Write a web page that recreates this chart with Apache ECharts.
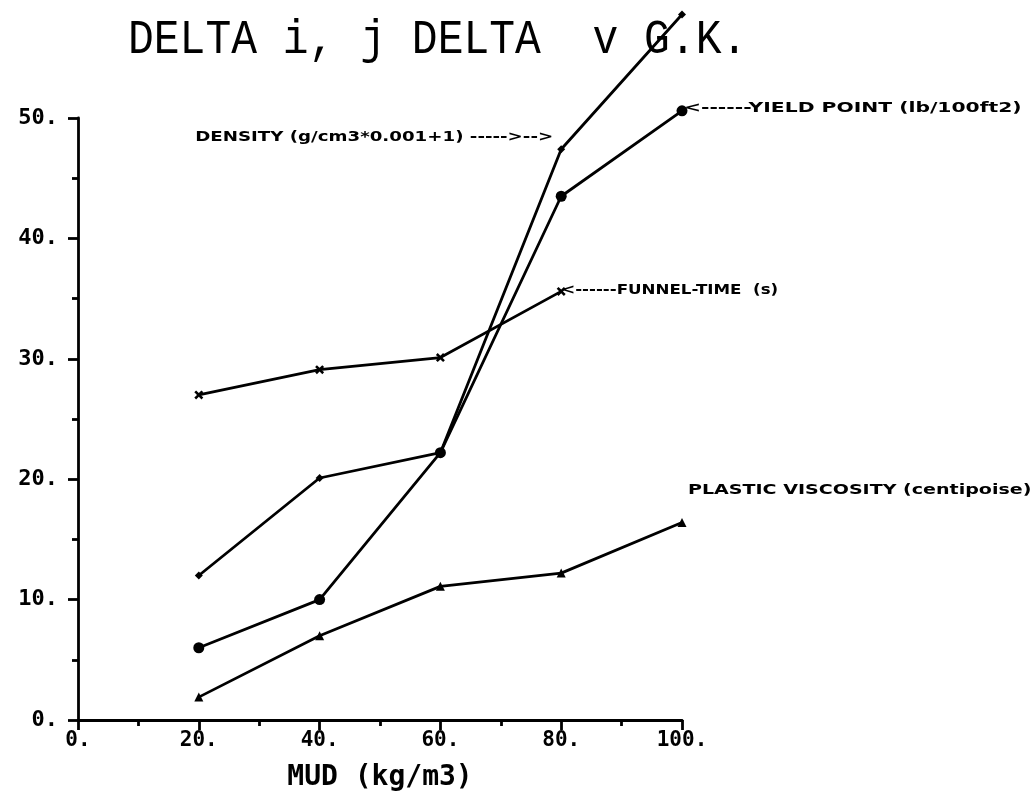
<!DOCTYPE html>
<html>
<head>
<meta charset="utf-8">
<title>DELTA i, j DELTA v G.K.</title>
<script src="https://cdn.jsdelivr.net/npm/echarts@6/dist/echarts.min.js"></script>
<style>
  html, body { margin: 0; padding: 0; background: #fff; }
  #chart { width: 1036px; height: 797px; }
</style>
</head>
<body>
<div id="chart"></div>
<script>
// Mud concentration (kg/m3) on the x axis
const mud = [20, 40, 60, 80, 100];

// Measured property changes for each mud concentration
const density = [12.0, 20.1, 22.2, 47.4, 58.6];
const yieldPoint = [6.0, 10.0, 22.2, 43.5, 50.6];
const funnelTime = [27.0, 29.1, 30.1, 35.6];
const plasticViscosity = [1.9, 7.0, 11.1, 12.2, 16.4];

// Tick labels
const xTickValues = [0, 20, 40, 60, 80, 100];
const xTickLabels = ['0.', '20.', '40.', '60.', '80.', '100.'];
const yTickValues = [0, 10, 20, 30, 40, 50];
const yTickLabels = ['0.', '10.', '20.', '30.', '40.', '50.'];

// Heading and annotation texts next to each curve
const heading = 'DELTA i, j DELTA  v G.K.';
const densityText = 'DENSITY (g/cm3*0.001+1) ----->-->';
const yieldText = '<------YIELD POINT (lb/100ft2)';
const funnelText = '<------FUNNEL-TIME  (s)';
const plasticText = 'PLASTIC VISCOSITY (centipoise)';

const INK = '#000';
const LABEL_FONT = 'bold 14px "DejaVu Sans"';

const pairs = (ys) => ys.map((y, i) => [mud[i], y]);

const xMark = 'path://M2,0 L5,3 L8,0 L10,2 L7,5 L10,8 L8,10 L5,7 L2,10 L0,8 L3,5 L0,2 Z';

const chart = echarts.init(document.getElementById('chart'), null, { renderer: 'canvas' });

const lineBase = {
  type: 'line',
  clip: false,
  lineStyle: { color: INK, width: 2.8 },
  itemStyle: { color: INK },
  animation: false,
  z: 3
};

const option = {
  backgroundColor: '#fff',
  animation: false,
  grid: { left: 78, right: 354, top: 118, bottom: 75 },
  xAxis: {
    type: 'value',
    min: 0,
    max: 100,
    interval: 20,
    name: 'MUD (kg/m3)',
    nameLocation: 'middle',
    nameGap: 44,
    nameTextStyle: {
      fontFamily: '"DejaVu Sans Mono"',
      fontWeight: 'bold',
      fontSize: 28,
      color: INK
    },
    axisLine: { lineStyle: { color: INK, width: 2.8 } },
    axisTick: { length: 10, lineStyle: { color: INK, width: 2.8 } },
    minorTick: { show: true, splitNumber: 2, length: 6, lineStyle: { color: INK, width: 2.8 } },
    splitLine: { show: false },
    axisLabel: {
      margin: 10,
      fontFamily: '"DejaVu Sans Mono"',
      fontWeight: 'bold',
      fontSize: 21,
      color: INK,
      formatter: (v) => xTickLabels[xTickValues.indexOf(v)]
    }
  },
  yAxis: {
    type: 'value',
    min: 0,
    max: 50,
    interval: 10,
    axisLine: { show: true, lineStyle: { color: INK, width: 2.8 } },
    axisTick: { show: true, length: 10, lineStyle: { color: INK, width: 2.8 } },
    minorTick: { show: true, splitNumber: 2, length: 6, lineStyle: { color: INK, width: 2.8 } },
    splitLine: { show: false },
    axisLabel: {
      margin: 20,
      fontFamily: '"DejaVu Sans Mono"',
      fontWeight: 'bold',
      fontSize: 22,
      color: INK,
      formatter: (v) => yTickLabels[yTickValues.indexOf(v)]
    }
  },
  series: [
    Object.assign({}, lineBase, {
      name: 'Density',
      data: pairs(density),
      symbol: 'diamond',
      symbolSize: 8
    }),
    Object.assign({}, lineBase, {
      name: 'Yield point',
      data: pairs(yieldPoint),
      symbol: 'circle',
      symbolSize: 11
    }),
    Object.assign({}, lineBase, {
      name: 'Funnel time',
      data: pairs(funnelTime),
      symbol: xMark,
      symbolSize: 9
    }),
    Object.assign({}, lineBase, {
      name: 'Plastic viscosity',
      data: pairs(plasticViscosity),
      symbol: 'triangle',
      symbolSize: 9
    })
  ]
};

chart.setOption(option);

// Place each curve's annotation beside its data point, using the chart's own scales
function at(seriesIndex, values, i) {
  return chart.convertToPixel({ seriesIndex: seriesIndex }, [mud[i], values[i]]);
}

function note(text, pos, dx, dy, align, stretch) {
  return {
    type: 'text',
    x: pos[0] + dx,
    y: pos[1] + dy,
    scaleX: stretch,
    z: 10,
    style: {
      text: text,
      font: LABEL_FONT,
      fill: INK,
      textAlign: align,
      textVerticalAlign: 'middle'
    }
  };
}

chart.setOption({
  graphic: [
    {
      type: 'text',
      x: 128,
      y: 40,
      scaleY: 1.13,
      z: 1,
      style: {
        text: heading,
        font: 'normal 43px "Liberation Mono"',
        fill: INK,
        textAlign: 'left',
        textVerticalAlign: 'middle'
      }
    },
    note(densityText, at(0, density, 3), -8, -12, 'right', 1.30),
    note(yieldText, at(1, yieldPoint, 4), 2, -2, 'left', 1.45),
    note(funnelText, at(2, funnelTime, 3), 0, -1, 'left', 1.19),
    note(plasticText, at(3, plasticViscosity, 4), 6, -32, 'left', 1.36)
  ]
});
</script>
</body>
</html>
